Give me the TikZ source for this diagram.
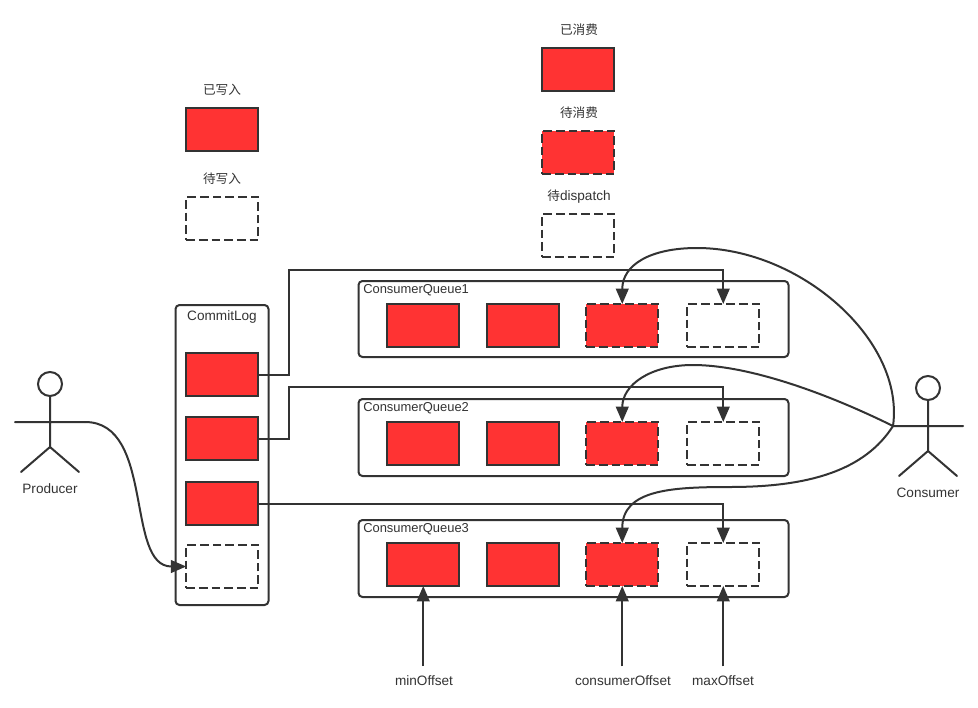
\documentclass[tikz,border=0pt]{standalone}
\usepackage{fontspec}
\setmainfont{Liberation Sans}
\newfontfamily\cjk{Noto Sans CJK SC}[Scale=0.93]
\usetikzlibrary{arrows.meta}
\definecolor{ink}{HTML}{333333}
\definecolor{cellred}{HTML}{FF3333}
\tikzset{
  line/.style={draw=ink,line width=1.5pt},
  cell/.style={line,minimum width=54pt,minimum height=32.25pt,inner sep=0pt,outer sep=0pt,anchor=center},
  done/.style={cell,fill=cellred},
  pending/.style={cell,fill=cellred,dash pattern=on 6.5pt off 3pt},
  empty/.style={cell,fill=white,dash pattern=on 6.5pt off 3pt},
  container/.style={line,rounded corners=3pt,inner sep=0pt,outer sep=0pt,anchor=north west},
  lbl/.style={text=ink,font=\fontsize{10.2pt}{12pt}\selectfont,inner sep=0pt},
  qlbl/.style={text=ink,font=\fontsize{9.7pt}{12pt}\selectfont,inner sep=0pt,anchor=west},
  conn/.style={line,-{Triangle[length=11.5pt,width=9.5pt]}},
  actor/.style={line,line cap=round},
  head/.style={line,circle,minimum size=18pt,inner sep=0pt,outer sep=0pt},
}
\begin{document}
\begin{tikzpicture}[x=0.75pt,y=-0.75pt]
\useasboundingbox (0,0) rectangle (978,707);
% containers
\node[container,minimum width=69.75pt,minimum height=225pt] (log) at (175.5,305) {};
\node[container,minimum width=322.5pt,minimum height=57pt] (q1) at (358.5,281) {};
\node[container,minimum width=322.5pt,minimum height=57.75pt] (q2) at (358.5,399) {};
\node[container,minimum width=322.5pt,minimum height=57.75pt] (q3) at (358.5,520) {};
% legend
\node[done] (lw) at (222.25,129.5) {};
\node[empty] (lp) at (222.25,218.5) {};
\node[done] (ld) at (578.25,69.5) {};
\node[pending] (lc) at (578.25,152.5) {};
\node[empty] (le) at (578.25,235.5) {};
% commit log cells
\node[done] (a) at (222.25,374.5) {};
\node[done] (b) at (222.25,438.5) {};
\node[done] (c) at (222.25,503.5) {};
\node[empty] (d) at (222.25,566.5) {};
% queue cells
\node[done] (q1a) at (423.25,325.5) {};
\node[done] (q1b) at (523.25,325.5) {};
\node[pending] (q1c) at (622.25,325.5) {};
\node[empty] (q1d) at (723.25,325.5) {};
\node[done] (q2a) at (423.25,443.5) {};
\node[done] (q2b) at (523.25,443.5) {};
\node[pending] (q2c) at (622.25,443.5) {};
\node[empty] (q2d) at (723.25,443.5) {};
\node[done] (q3a) at (423.25,564.5) {};
\node[done] (q3b) at (523.25,564.5) {};
\node[pending] (q3c) at (622.25,564.5) {};
\node[empty] (q3d) at (723.25,564.5) {};
% texts
\node[lbl] at (222,89.5) {\cjk 已写入};
\node[lbl] at (222,178.5) {\cjk 待写入};
\node[lbl] at (579,29.5) {\cjk 已消费};
\node[lbl] at (579,112.5) {\cjk 待消费};
\node[lbl] at (579,196.5) {{\cjk 待}dispatch};
\node[lbl] at (222,316.5) {CommitLog};
\node[qlbl] at (363,290.5) {ConsumerQueue1};
\node[qlbl] at (363,408.5) {ConsumerQueue2};
\node[qlbl] at (363,529.5) {ConsumerQueue3};
\node[lbl] (pl) at (50,488.5) {Producer};
\node[lbl] (cl) at (928,492.5) {Consumer};
\node[lbl] (minl) at (424,680.5) {minOffset};
\node[lbl] (conl) at (623,680.5) {consumerOffset};
\node[lbl] (maxl) at (723,680.5) {maxOffset};
% producer
\node[head] (ph) at (50,384) {};
\coordinate (pb) at (50,447);
\coordinate (pr) at (85,422);
\coordinate (pll) at (15,422);
\draw[actor] (ph.south) -- (pb) (pll) -- (pr) (21,472) -- (pb) -- (79,472);
% consumer
\node[head] (ch) at (928,388) {};
\coordinate (cb) at (928,451);
\coordinate (cr) at (963,426);
\coordinate (cll) at (893,426);
\draw[actor] (ch.south) -- (cb) (cll) -- (cr) (899,476) -- (cb) -- (957,476);
% connectors
\draw[conn] (pr) .. controls (155,422) and (125,566.5) .. (d.west);
\draw[conn] (a.east) -- (289,374.5) -- (289,270) -| (q1d.north);
\draw[conn] (b.east) -- (289,438.5) -- (289,387) -| (q2d.north);
\draw[conn] (c.east) -| (q3d.north);
\draw[conn] (cll) .. controls (905,340) and (800,248) .. (697,248) .. controls (650,248) and (622.25,265) .. (q1c.north);
\draw[conn] (cll) .. controls (820,390) and (745,365) .. (693,365) .. controls (650,365) and (622.25,385) .. (q2c.north);
\draw[conn] (cll) .. controls (865,470) and (810,487) .. (730,487) .. controls (670,487) and (622.25,490) .. (q3c.north);
\draw[conn] (minl.north -| q3a.south) ++(0,-9) -- (q3a.south);
\draw[conn] (conl.north -| q3c.south) ++(0,-9) -- (q3c.south);
\draw[conn] (maxl.north -| q3d.south) ++(0,-9) -- (q3d.south);
\end{tikzpicture}
\end{document}
